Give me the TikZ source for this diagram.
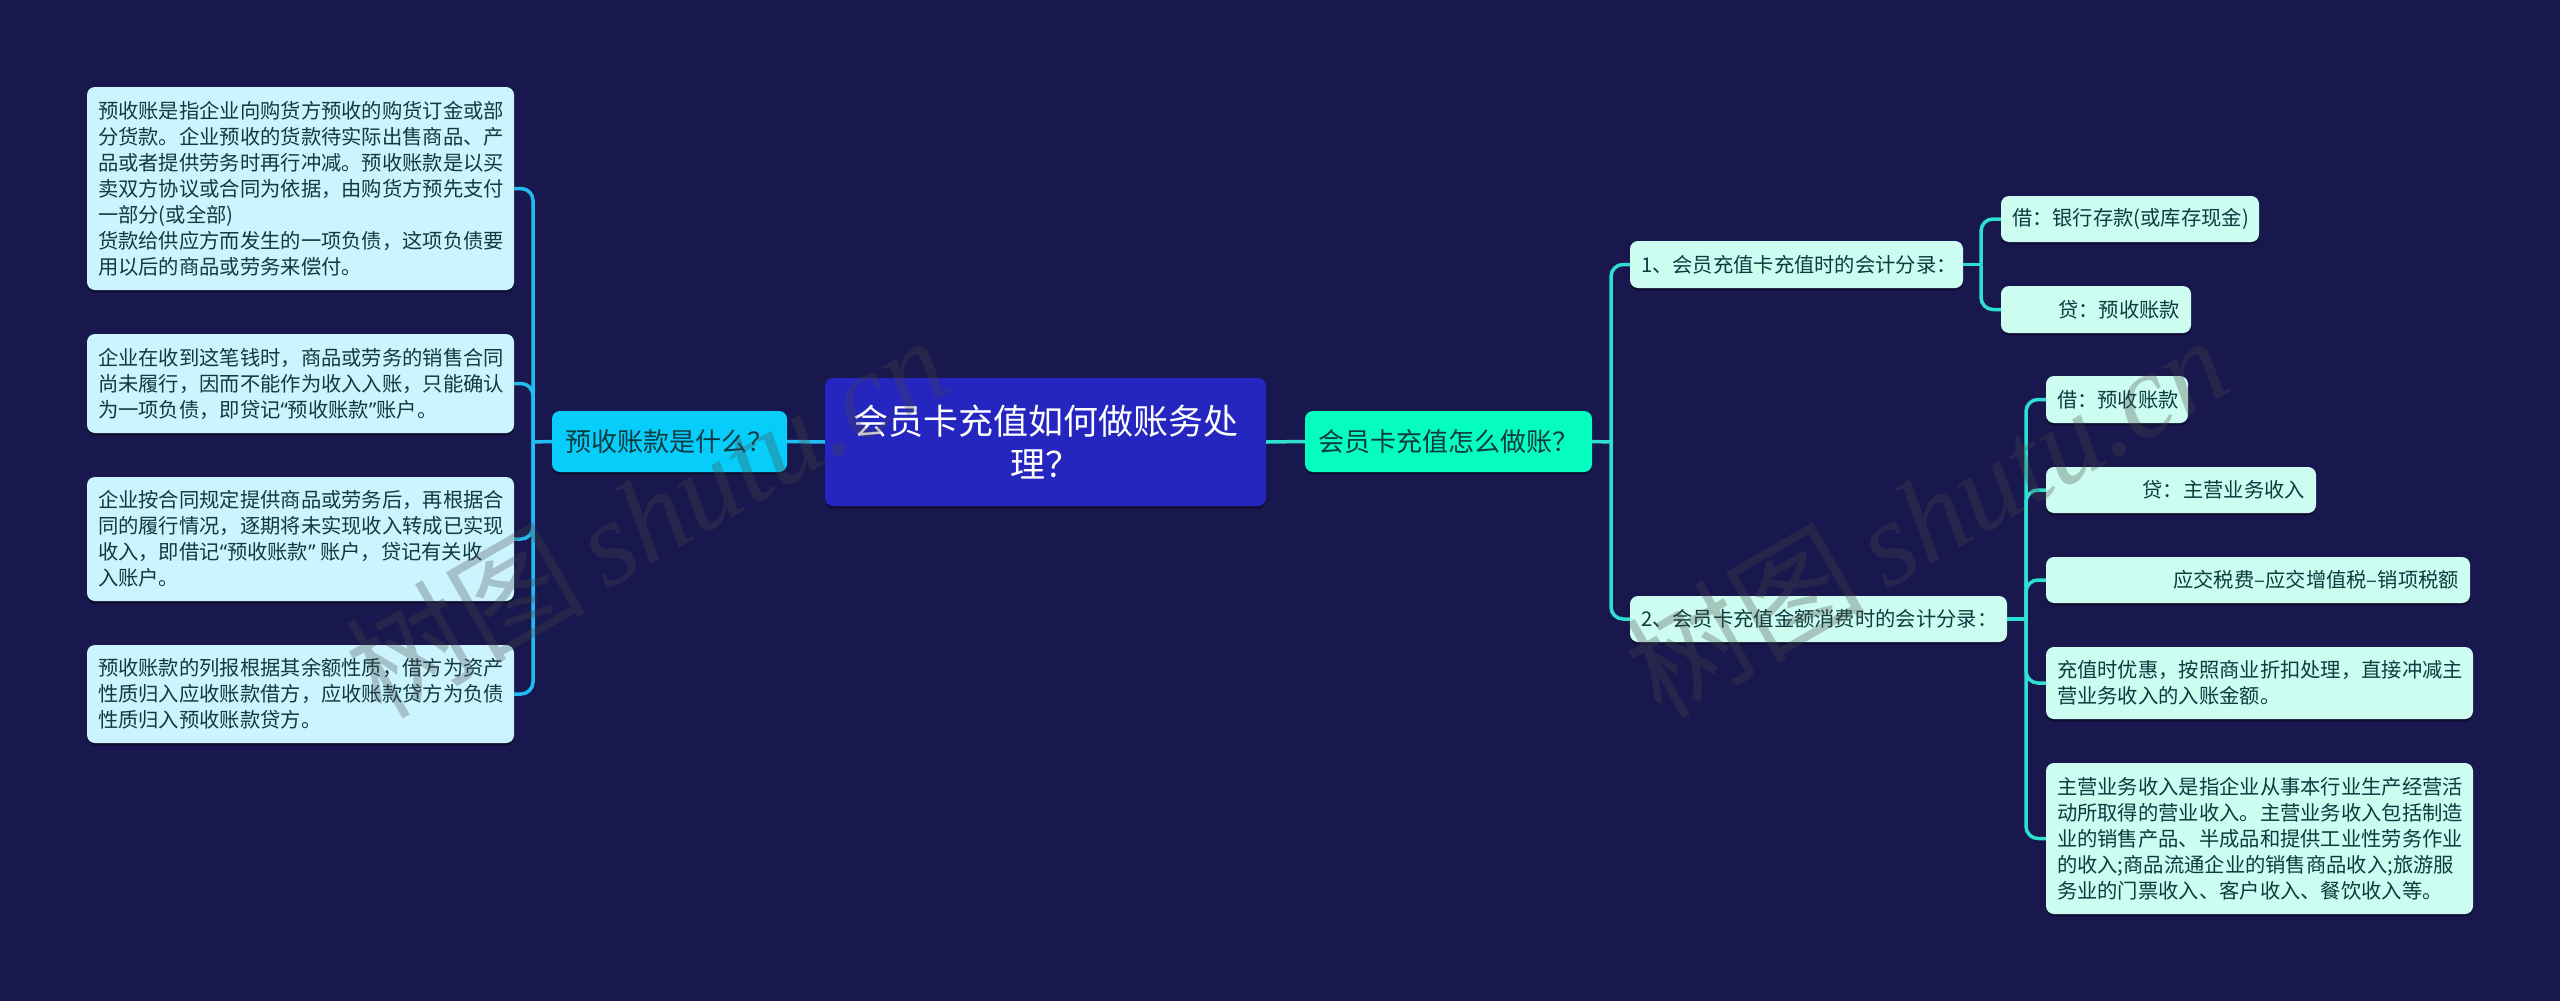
\documentclass[tikz,border=0pt]{standalone}
\usepackage{fontspec}
\setmainfont{Noto Sans CJK SC}
\newfontfamily\qf{Noto Sans}
\newfontfamily\wmf{Liberation Serif}
\usetikzlibrary{shadows}
\definecolor{bgc}{HTML}{18184F}
\definecolor{rootc}{HTML}{2525C0}
\definecolor{bluec}{HTML}{06CDFA}
\definecolor{greenc}{HTML}{06FDC0}
\definecolor{paleb}{HTML}{CCF4FF}
\definecolor{paleg}{HTML}{CDFDF0}
\definecolor{inkc}{HTML}{0F3A40}
\definecolor{linkb}{HTML}{22BDF0}
\definecolor{linkg}{HTML}{2EE0D0}
\definecolor{wmc}{HTML}{494949}
\newcommand{\myl}{{\qf “}}
\newcommand{\myr}{{\qf ”}}
\tikzset{
  x=1pt,y=-1pt,
  boxbase/.style={rounded corners=8pt,inner xsep=11pt,inner ysep=0pt,text=inkc,
    drop shadow={shadow xshift=0pt,shadow yshift=-2.5pt,opacity=.35,fill=black}},
  sized/.style n args={2}{minimum width=#1pt,minimum height=#2pt,text width=#1pt-22pt},
  leafb/.style={boxbase,fill=paleb,align=flush left,font=\fontsize{20.3}{26}\selectfont},
  leafg/.style={boxbase,fill=paleg,align=flush left,font=\fontsize{20.3}{26}\selectfont},
  leafr/.style={leafg,align=flush right},
  mainb/.style={boxbase,fill=bluec,align=center,font=\fontsize{26}{32}\selectfont},
  maing/.style={boxbase,fill=greenc,align=center,font=\fontsize{26}{32}\selectfont},
  rootn/.style={boxbase,fill=rootc,text=white,align=center,font=\fontsize{35}{43}\selectfont},
  lkb/.style={draw=linkb,line width=3.5pt,rounded corners=12pt},
  lkg/.style={draw=linkg,line width=3.5pt,rounded corners=12pt},
  wm/.style={text=wmc,text opacity=.3,inner sep=0pt,rotate=30,font=\fontsize{120}{120}\selectfont},
}
\begin{document}
\begin{tikzpicture}
\useasboundingbox (0,0) rectangle (2560,1001);
\fill[bgc] (0,0) rectangle (2560,1001);
% junction points
\coordinate (jl) at (533,442);
\coordinate (jr) at (1611,442);
\coordinate (ja) at (1981,264.5);
\coordinate (jb) at (2026,619);
\node[rootn,sized={441}{128}] (root) at (1045.5,442) {会员卡充值如何做账务处\\理？};
\node[mainb,sized={235}{61}] (qa) at (669.5,441.5) {预收账款是什么？};
\node[maing,sized={287}{61}] (qb) at (1448.5,441.5) {会员卡充值怎么做账？};
\node[leafb,sized={427}{203}] (l1) at (300.5,188.5) {预收账是指企业向购货方预收的购货订金或部\\分货款。企业预收的货款待实际出售商品、产\\品或者提供劳务时再行冲减。预收账款是以买\\卖双方协议或合同为依据，由购货方预先支付\\一部分(或全部)\\货款给供应方而发生的一项负债，这项负债要\\用以后的商品或劳务来偿付。};
\node[leafb,sized={427}{99}] (l2) at (300.5,383.5) {企业在收到这笔钱时，商品或劳务的销售合同\\尚未履行，因而不能作为收入入账，只能确认\\为一项负债，即贷记\myl 预收账款\myr 账户。};
\node[leafb,sized={427}{124}] (l3) at (300.5,539) {企业按合同规定提供商品或劳务后，再根据合\\同的履行情况，逐期将未实现收入转成已实现\\收入，即借记\myl 预收账款\myr\ 账户，贷记有关收\\入账户。};
\node[leafb,sized={427}{98}] (l4) at (300.5,694) {预收账款的列报根据其余额性质，借方为资产\\性质归入应收账款借方，应收账款贷方为负债\\性质归入预收账款贷方。};
\node[leafg,sized={333}{47}] (r1) at (1796.5,264.5) {1、会员充值卡充值时的会计分录：};
\node[leafg,sized={377}{46}] (r2) at (1818.5,619) {2、会员卡充值金额消费时的会计分录：};
\node[leafg,sized={258}{46}] (a1) at (2130,219) {借：银行存款(或库存现金)};
\node[leafr,sized={190}{47}] (a2) at (2096,309.5) {贷：预收账款};
\node[leafg,sized={142}{47}] (b1) at (2117,399.5) {借：预收账款};
\node[leafr,sized={270}{46}] (b2) at (2181,490) {贷：主营业务收入};
\node[leafr,sized={424}{46}] (b3) at (2258,580) {应交税费–应交增值税–销项税额};
\node[leafg,sized={427}{72}] (b4) at (2259.5,683) {充值时优惠，按照商业折扣处理，直接冲减主\\营业务收入的入账金额。};
\node[leafg,sized={427}{151}] (b5) at (2259.5,838.5) {主营业务收入是指企业从事本行业生产经营活\\动所取得的营业收入。主营业务收入包括制造\\业的销售产品、半成品和提供工业性劳务作业\\的收入;商品流通企业的销售商品收入;旅游服\\务业的门票收入、客户收入、餐饮收入等。};
% connectors
\draw[lkb] (root.west) -- (qa.east);
\draw[lkg] (root.east) -- (qb.west);
\draw[lkb] (qa.west) -- (jl);
\foreach \n in {l1,l2,l3,l4} \draw[lkb] (\n.east) -| (jl);
\draw[lkg] (qb.east) -- (jr);
\foreach \n in {r1,r2} \draw[lkg] (\n.west) -| (jr);
\draw[lkg] (r1.east) -- (ja);
\foreach \n in {a1,a2} \draw[lkg] (\n.west) -| (ja);
\draw[lkg] (r2.east) -- (jb);
\foreach \n in {b1,b2,b3,b4,b5} \draw[lkg] (\n.west) -| (jb);
% watermarks
\node[wm] (w1) at (646,515) {树图{\wmf\itshape\,shutu.cn}};
\node[wm] (w2) at (1926,515) {树图{\wmf\itshape\,shutu.cn}};
\end{tikzpicture}
\end{document}
